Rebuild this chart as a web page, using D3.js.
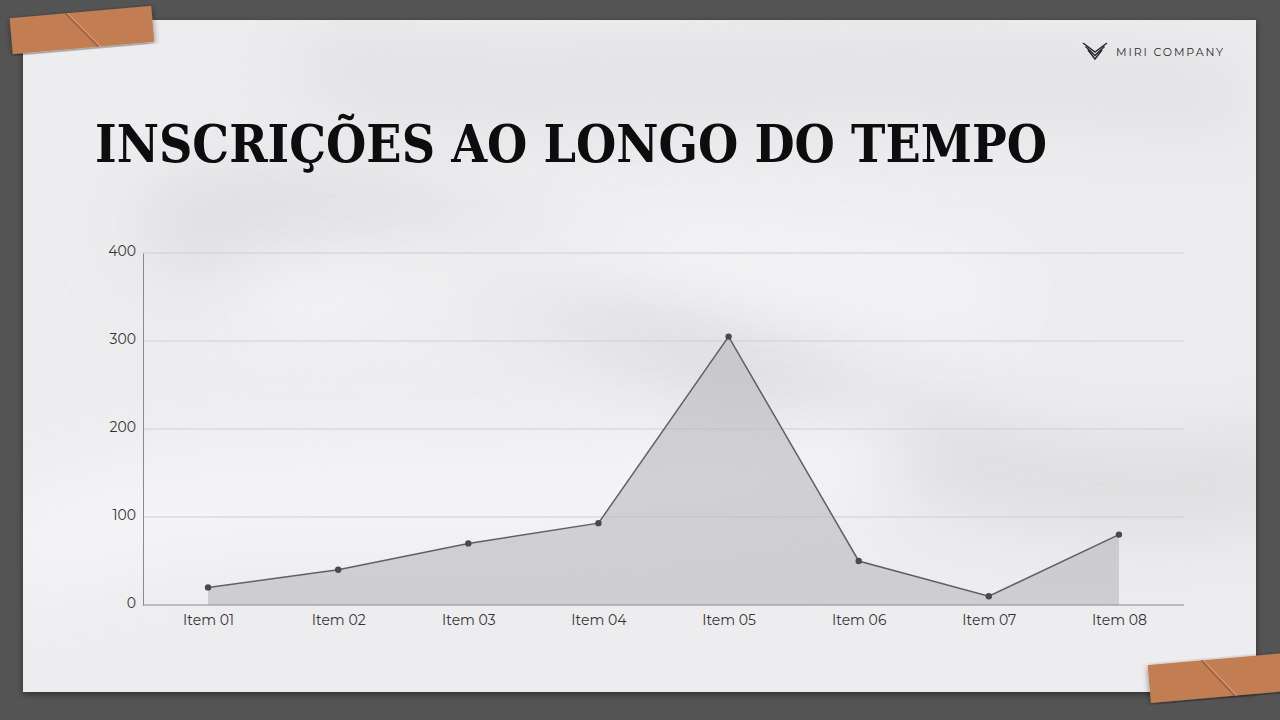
<!DOCTYPE html>
<html><head><meta charset="utf-8">
<script src="https://cdn.jsdelivr.net/npm/d3@7"></script>
<style>html,body{margin:0;padding:0;background:#545454;}svg{display:block;}</style>
</head><body>
<svg id="c" width="1280" height="720"></svg>
<script>
const categories = ["Item 01","Item 02","Item 03","Item 04","Item 05","Item 06","Item 07","Item 08"];
const values = [20, 40, 70, 93, 305, 50, 10, 80];
const yTicks = [0, 100, 200, 300, 400];
const title = "INSCRIÇÕES AO LONGO DO TEMPO";
const brand = "MIRI COMPANY";

const svg = d3.select("#c");
const defs = svg.append("defs");
const f = defs.append("filter").attr("id","sh").attr("x","-5%").attr("y","-5%").attr("width","110%").attr("height","110%");
f.append("feDropShadow").attr("dx",0).attr("dy",2).attr("stdDeviation",3).attr("flood-color","#000").attr("flood-opacity",0.45);
const blur = defs.append("filter").attr("id","bl").attr("filterUnits","userSpaceOnUse")
  .attr("x",-200).attr("y",-200).attr("width",1700).attr("height",1200);
blur.append("feGaussianBlur").attr("stdDeviation",40);
const clip = defs.append("clipPath").attr("id","pc");
clip.append("rect").attr("x",23).attr("y",20).attr("width",1233).attr("height",672);

svg.append("rect").attr("width",1280).attr("height",720).attr("fill","#545454");
svg.append("rect").attr("x",23).attr("y",20).attr("width",1233).attr("height",672).attr("fill","#ededef").attr("filter","url(#sh)");
// paper shading
const sh = svg.append("g").attr("clip-path","url(#pc)");
sh.append("path").attr("d","M 150 230 C 400 180, 600 300, 760 380 S 1100 520, 1300 470").attr("stroke","#d9d9db").attr("stroke-width",70).attr("fill","none").attr("filter","url(#bl)");
sh.append("path").attr("d","M 0 560 C 300 430, 500 560, 900 440").attr("stroke","#f7f7f9").attr("stroke-width",80).attr("fill","none").attr("filter","url(#bl)");
sh.append("path").attr("d","M 300 60 C 500 120, 800 40, 1250 100").attr("stroke","#dedee0").attr("stroke-width",60).attr("fill","none").attr("filter","url(#bl)");
sh.append("path").attr("d","M 250 300 C 450 260, 700 230, 1000 300").attr("stroke","#f6f6f8").attr("stroke-width",60).attr("fill","none").attr("filter","url(#bl)");

// tapes
function tape(cx, cy, w, h, ang){
  const g = svg.append("g").attr("transform",`translate(${cx},${cy}) rotate(${ang})`);
  g.append("rect").attr("x",-w/2).attr("y",-h/2).attr("width",w).attr("height",h).attr("fill","#c27d52").attr("filter","url(#sh)");
  g.append("line").attr("x1",-15).attr("y1",-h/2).attr("x2",15).attr("y2",h/2).attr("stroke","#8e5534").attr("stroke-width",1.5).attr("opacity",0.7);
  g.append("line").attr("x1",-13).attr("y1",-h/2).attr("x2",17).attr("y2",h/2).attr("stroke","#e0a27c").attr("stroke-width",1).attr("opacity",0.8);
}
tape(82, 30, 142, 36, -5);
tape(1218, 678, 138, 38, -5);

// title
svg.append("text").attr("x",95).attr("y",162).text(title)
  .attr("font-family","'DejaVu Serif', serif").attr("font-weight","bold").attr("font-size",52)
  .attr("fill","#0d0d0d").attr("textLength",952).attr("lengthAdjust","spacingAndGlyphs");

// brand logo: three nested chevrons
const lg = svg.append("g").attr("transform","translate(1083,43)");
[0,1,2].forEach(i=>{
  lg.append("path").attr("d",`M ${i*2.5} ${i*3.5} L 12 ${9+i*3.5} L ${24-i*2.5} ${i*3.5}`)
    .attr("fill","none").attr("stroke","#2a2a2a").attr("stroke-width",1.5);
});
svg.append("text").attr("x",1116).attr("y",56).text(brand).attr("font-family","Montserrat, 'Open Sans', sans-serif")
  .attr("font-size",11).attr("letter-spacing",1.9).attr("fill","#2a2a2a");

// chart
const x0 = 143, x1 = 1184, yTop = 253, yBot = 605;
const x = d3.scalePoint().domain(categories).range([x0, x1]).padding(0.5);
const y = d3.scaleLinear().domain([0, 400]).range([yBot, yTop]);
const g = svg.append("g");

g.selectAll("line.grid").data(yTicks.filter(d=>d>0)).join("line")
  .attr("x1",x0).attr("x2",x1).attr("y1",d=>y(d)).attr("y2",d=>y(d))
  .attr("stroke","#cfcfd2").attr("stroke-width",1);

const data = categories.map((c,i)=>({c, v: values[i]}));
g.append("path").datum(data)
  .attr("d", d3.area().x(d=>x(d.c)).y0(y(0)).y1(d=>y(d.v)))
  .attr("fill","#b9b8bb").attr("opacity",0.6);
g.append("path").datum(data)
  .attr("d", d3.line().x(d=>x(d.c)).y(d=>y(d.v)))
  .attr("fill","none").attr("stroke","#606062").attr("stroke-width",1.5);
g.selectAll("circle").data(data).join("circle")
  .attr("cx",d=>x(d.c)).attr("cy",d=>y(d.v)).attr("r",3.2).attr("fill","#4a4a4c");

// axes
const ya = g.append("g").attr("transform",`translate(${x0},0)`)
  .call(d3.axisLeft(y).tickValues(yTicks).tickSize(0).tickPadding(7));
ya.select(".domain").attr("stroke","#8a8a8c");
ya.selectAll("text").attr("font-family","Montserrat, 'Open Sans', sans-serif").attr("font-size",14).attr("fill","#333").attr("dy","0.2em");
const xa = g.append("g").attr("transform",`translate(0,${yBot})`)
  .call(d3.axisBottom(x).tickSize(0).tickPadding(10));
xa.select(".domain").attr("stroke","#8a8a8c").attr("d",`M${x0},0H${x1}`);
xa.selectAll("text").attr("font-family","Montserrat, 'Open Sans', sans-serif").attr("font-size",14).attr("fill","#333");
</script>
</body></html>
